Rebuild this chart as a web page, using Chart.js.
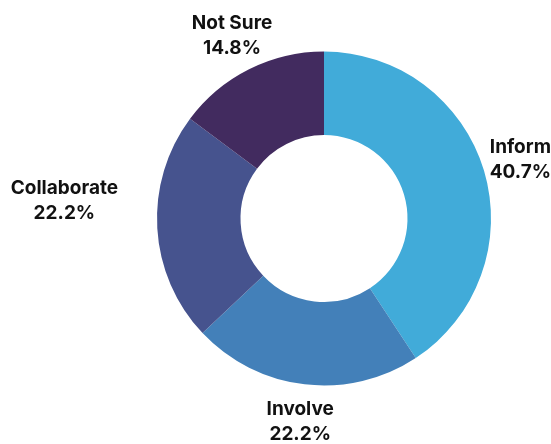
<!DOCTYPE html>
<html>
<head>
<meta charset="utf-8">
<script src="https://cdn.jsdelivr.net/npm/chart.js@4/dist/chart.umd.min.js"></script>
<style>
  html, body { margin: 0; padding: 0; background: #fff; }
  #holder { width: 551px; height: 444px; position: relative; }
</style>
</head>
<body>
<div id="holder"><canvas id="chart-area"></canvas></div>
<script>
var categories = ['Inform', 'Involve', 'Collaborate', 'Not Sure'];
var shares = [40.7, 22.2, 22.2, 14.8];
var sliceColors = ['#41abd9', '#4380b9', '#46538e', '#422b5f'];

// draws "name / pct" outside each slice
var outsideLabels = {
    id: 'outsideLabels',
    afterDatasetsDraw: function (chart) {
        var ctx = chart.ctx;
        var meta = chart.getDatasetMeta(0);
        ctx.save();
        ctx.font = 'bold 19px Inter, "Liberation Sans", sans-serif';
        ctx.fillStyle = '#111111';
        ctx.textBaseline = 'middle';
        meta.data.forEach(function (arc, i) {
            var mid = (arc.startAngle + arc.endAngle) / 2;
            var r = arc.outerRadius + 38;
            var x = arc.x + Math.cos(mid) * r;
            var y = arc.y + Math.sin(mid) * r;
            var lines = [categories[i], shares[i].toFixed(1) + '%'];
            var w = Math.max(ctx.measureText(lines[0]).width, ctx.measureText(lines[1]).width);
            // wide labels on the far left/right would run into the ring
            if (Math.cos(mid) < -0.9) {
                x = arc.x - arc.outerRadius - 39 - w / 2;
                y -= 30;
            }
            ctx.textAlign = 'center';
            ctx.fillText(lines[0], x, y - 12.5);
            ctx.fillText(lines[1], x, y + 12.5);
        });
        ctx.restore();
    }
};

var config = {
    type: 'doughnut',
    data: {
        labels: categories,
        datasets: [{
            data: shares,
            backgroundColor: sliceColors,
            borderWidth: 0
        }]
    },
    options: {
        responsive: true,
        maintainAspectRatio: false,
        animation: false,
        cutout: '50%',
        layout: {
            padding: { left: 157, right: 60, top: 51, bottom: 58 }
        },
        plugins: {
            legend: { display: false },
            tooltip: { enabled: false }
        }
    },
    plugins: [outsideLabels]
};

var ctx = document.getElementById('chart-area').getContext('2d');
window.myDoughnut = new Chart(ctx, config);
</script>
</body>
</html>
